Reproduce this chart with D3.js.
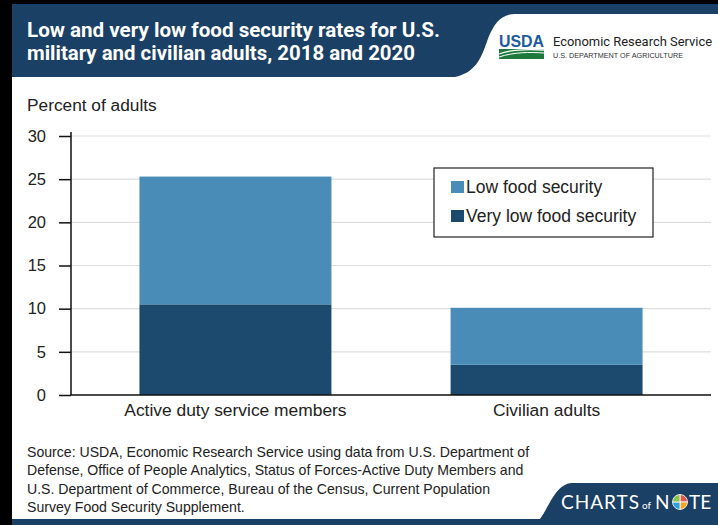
<!DOCTYPE html>
<html>
<head>
<meta charset="utf-8">
<script src="https://cdn.jsdelivr.net/npm/d3@7"></script>
<style>
  html, body { margin: 0; padding: 0; background: #fff; }
  svg { display: block; }
</style>
</head>
<body>
<svg id="chart" width="718" height="525"></svg>
<script>
const categories = ["Active duty service members", "Civilian adults"];
const seriesNames = ["Very low food security", "Low food security"];
const veryLowValues = [10.5, 3.5];
const lowValues = [14.8, 6.6];
const yTicks = [0, 5, 10, 15, 20, 25, 30];
const titleLines = ["Low and very low food security rates for U.S.", "military and civilian adults, 2018 and 2020"];
const sourceLines = [
  "Source: USDA, Economic Research Service using data from U.S. Department of",
  "Defense, Office of People Analytics, Status of Forces-Active Duty Members and",
  "U.S. Department of Commerce, Bureau of the Census, Current Population",
  "Survey Food Security Supplement."
];

const colors = { "Very low food security": "#1b4a6e", "Low food security": "#488cb7" };
const navy = "#1a4066";
const font = "'Liberation Sans', Arial, sans-serif";

const svg = d3.select("#chart");

// frame
svg.append("rect").attr("x", 0).attr("y", 0).attr("width", 718).attr("height", 525).attr("fill", "#000");
svg.append("rect").attr("x", 12).attr("y", 4).attr("width", 706).attr("height", 521).attr("fill", "#fff");

// header
svg.append("rect").attr("x", 12).attr("y", 4).attr("width", 706).attr("height", 73).attr("fill", navy);
svg.append("path")
  .attr("d", "M718,14 L515,14 C500,14 494,25 489,36 C482,55 478,72 455,77 L718,77 Z")
  .attr("fill", "#fff");

const titleWidths = [413, 388];
svg.append("g").selectAll("text").data(titleLines).join("text")
  .attr("x", 27).attr("y", (d, i) => 37 + i * 23)
  .attr("fill", "#fff").attr("font-family", "Roboto, sans-serif").attr("font-weight", "bold")
  .attr("font-size", 19.5).attr("textLength", (d, i) => titleWidths[i]).attr("lengthAdjust", "spacingAndGlyphs")
  .text(d => d);

// USDA logo
const logo = svg.append("g");
logo.append("text").attr("x", 499).attr("y", 47).attr("font-family", "'Liberation Sans', sans-serif")
  .attr("font-weight", "bold").attr("font-size", 17).attr("fill", "#1d5aa0").attr("textLength", 45)
  .attr("lengthAdjust", "spacingAndGlyphs").text("USDA");
logo.append("rect").attr("x", 499).attr("y", 49).attr("width", 45).attr("height", 10).attr("fill", "#1e7a3c");
logo.append("path").attr("d", "M499,54 C512,49 528,49 544,50").attr("stroke", "#fff").attr("stroke-width", 1.3).attr("fill", "none");
logo.append("path").attr("d", "M499,57 C514,52 530,52 544,53").attr("stroke", "#fff").attr("stroke-width", 1).attr("fill", "none");
logo.append("text").attr("x", 553).attr("y", 46).attr("font-family", "Roboto, sans-serif").attr("font-size", 13)
  .attr("fill", "#222").attr("textLength", 159).attr("lengthAdjust", "spacingAndGlyphs").text("Economic Research Service");
logo.append("text").attr("x", 553).attr("y", 58).attr("font-family", font).attr("font-size", 7.5)
  .attr("fill", "#333").attr("textLength", 130).attr("lengthAdjust", "spacingAndGlyphs").text("U.S. DEPARTMENT OF AGRICULTURE");

// chart
const margin = { left: 71, right: 711, top: 136, bottom: 395 };
const x = d3.scaleBand().domain(categories).range([margin.left, margin.right]).paddingInner(0.383).paddingOuter(0.22);
const y = d3.scaleLinear().domain([0, 30]).range([margin.bottom, margin.top]);

// gridlines
svg.append("g").selectAll("line").data(yTicks.filter(t => t > 0)).join("line")
  .attr("x1", margin.left).attr("x2", margin.right)
  .attr("y1", d => y(d)).attr("y2", d => y(d))
  .attr("stroke", "#dedede").attr("stroke-width", 1.2);

// y-axis title
svg.append("text").attr("x", 27).attr("y", 111).attr("font-family", font).attr("font-size", 17.3)
  .attr("fill", "#222").text("Percent of adults");

// stacked bars
const rows = categories.map((c, i) => ({ cat: c, "Very low food security": veryLowValues[i], "Low food security": lowValues[i] }));
const stacked = d3.stack().keys(seriesNames)(rows);
svg.append("g").selectAll("g").data(stacked).join("g")
  .attr("fill", d => colors[d.key])
  .selectAll("rect").data(d => d).join("rect")
  .attr("x", d => x(d.data.cat)).attr("width", x.bandwidth())
  .attr("y", d => y(d[1])).attr("height", d => y(d[0]) - y(d[1]));

// y axis
const yAxis = svg.append("g").attr("transform", `translate(${margin.left},0)`)
  .call(d3.axisLeft(y).tickValues(yTicks).tickSize(12).tickPadding(13).tickSizeOuter(0));
yAxis.select(".domain").attr("stroke", "#111").attr("stroke-width", 1.5).attr("d", `M0,${y(30) - 4}V${y(0)}`);
yAxis.selectAll(".tick line").attr("stroke", "#111").attr("stroke-width", 1.5);
yAxis.selectAll(".tick text").attr("font-family", font).attr("font-size", 16.5).attr("fill", "#222");

// x axis baseline
svg.append("line").attr("x1", margin.left).attr("x2", margin.right).attr("y1", y(0)).attr("y2", y(0))
  .attr("stroke", "#111").attr("stroke-width", 1.5);
svg.append("g").selectAll("text").data(categories).join("text")
  .attr("x", d => x(d) + x.bandwidth() / 2).attr("y", 416)
  .attr("text-anchor", "middle").attr("font-family", font).attr("font-size", 17.4).attr("fill", "#222")
  .text(d => d);

// legend
const legend = svg.append("g");
legend.append("rect").attr("x", 434).attr("y", 168).attr("width", 219).attr("height", 69)
  .attr("fill", "#fff").attr("stroke", "#222").attr("stroke-width", 1.2);
const legendItems = ["Low food security", "Very low food security"];
legendItems.forEach((k, i) => {
  legend.append("rect").attr("x", 451).attr("y", 181 + i * 29).attr("width", 13).attr("height", 12).attr("fill", colors[k]);
  legend.append("text").attr("x", 466).attr("y", 193 + i * 29).attr("font-family", font).attr("font-size", 17.5)
    .attr("fill", "#222").text(k);
});

// source
svg.append("g").selectAll("text").data(sourceLines).join("text")
  .attr("x", 27).attr("y", (d, i) => 457 + i * 18.3)
  .attr("font-family", font).attr("font-size", 14.1).attr("fill", "#222").text(d => d);

// footer
svg.append("rect").attr("x", 12).attr("y", 519).attr("width", 706).attr("height", 6).attr("fill", navy);
svg.append("path").attr("d", "M540,519 C550,505 556,484 572,483 L718,483 L718,519 Z").attr("fill", navy);
const cn = svg.append("g").attr("fill", "#fff").attr("font-family", "Lato, sans-serif");
cn.append("text").attr("x", 561).attr("y", 509).attr("font-size", 19).attr("textLength", 78).text("CHARTS");
cn.append("text").attr("x", 642).attr("y", 509).attr("font-size", 10).text("of");
cn.append("text").attr("x", 655).attr("y", 509).attr("font-size", 19).text("N");
const pieVals = [1, 1, 1, 1];
const pieCols = ["#e8544e", "#f5a623", "#2f9fd8", "#8bc34a"];
const pie = d3.pie().sort(null)(pieVals);
const arc = d3.arc().innerRadius(0).outerRadius(7.5);
cn.append("g").attr("transform", "translate(680,502)").selectAll("path").data(pie).join("path")
  .attr("d", arc).attr("fill", (d, i) => pieCols[i]).attr("stroke", "#fff").attr("stroke-width", 0.8);
cn.append("text").attr("x", 689).attr("y", 509).attr("font-size", 19).text("TE");
</script>
</body>
</html>
